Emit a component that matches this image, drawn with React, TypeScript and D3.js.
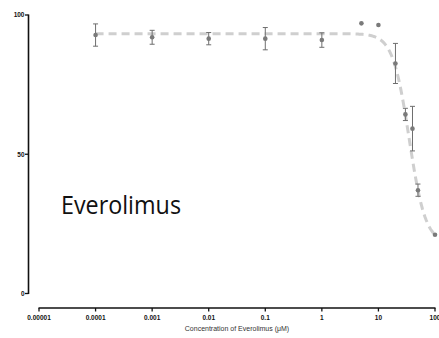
import React from "react";
import * as d3 from "d3";

const W = 439;
const H = 338;

// measured data (concentration µM, mean % , error)
const concentrations = [0.0001, 0.001, 0.01, 0.1, 1, 5, 10, 20, 30, 40, 50, 100];
const means = [92.8, 92.0, 91.5, 91.5, 91.0, 97.0, 96.4, 82.6, 64.3, 59.2, 37.1, 21.1];
const errors = [4.0, 2.5, 2.2, 4.0, 2.6, 0, 0, 7.2, 2.2, 8.0, 2.2, 0];

const xTicks = [0.00001, 0.0001, 0.001, 0.01, 0.1, 1, 10, 100];
const xTickLabels = ["0.00001", "0.0001", "0.001", "0.01", "0.1", "1", "10", "100"];
const yTicks = [0, 50, 100];

// fitted dose-response parameters (4PL)
const fitTop = 93.3;
const fitBottom = 18;
const fitIC50 = 34.9;
const fitHill = 3;
const fitRange = [0.0001, 100];

export default function App() {
  const x = d3.scaleLog().domain([0.00001, 100]).range([39, 435]);
  const y = d3.scaleLinear().domain([0, 100]).range([293.5, 15]);

  const curveX = d3.range(0, 301).map((i) => {
    const l0 = Math.log10(fitRange[0]);
    const l1 = Math.log10(fitRange[1]);
    return Math.pow(10, l0 + ((l1 - l0) * i) / 300);
  });
  const fitFn = (c: number) => fitBottom + (fitTop - fitBottom) / (1 + Math.pow(c / fitIC50, fitHill));
  const line = d3
    .line<number>()
    .x((c) => x(c))
    .y((c) => y(fitFn(c)))
    .curve(d3.curveLinear);

  const axisX = 28.5;
  const axisY = 308;

  return (
    <svg
      width={W}
      height={H}
      style={{ position: "absolute", left: 0, top: 0, background: "#fff" }}
      fontFamily="'Liberation Sans', Arial, sans-serif"
    >
      <rect width={W} height={H} fill="#fff" />
      {/* fit curve */}
      <path d={line(curveX) || ""} fill="none" stroke="#cfcfcf" strokeWidth={3} strokeDasharray="8,5" />

      {/* error bars */}
      {concentrations.map((c, i) =>
        errors[i] > 0 ? (
          <g key={"e" + i} stroke="#6e6e6e" strokeWidth={1}>
            <line x1={x(c)} x2={x(c)} y1={y(means[i] + errors[i])} y2={y(means[i] - errors[i])} />
            <line x1={x(c) - 2.5} x2={x(c) + 2.5} y1={y(means[i] + errors[i])} y2={y(means[i] + errors[i])} />
            <line x1={x(c) - 2.5} x2={x(c) + 2.5} y1={y(means[i] - errors[i])} y2={y(means[i] - errors[i])} />
          </g>
        ) : null
      )}
      {/* points */}
      {concentrations.map((c, i) => (
        <circle key={"p" + i} cx={x(c)} cy={y(means[i])} r={2.3} fill="#7a7a7a" />
      ))}

      {/* y axis */}
      <line x1={axisX} x2={axisX} y1={y(100) - 0.5} y2={y(0) + 0.5} stroke="#111" strokeWidth={1.6} />
      {yTicks.map((t) => (
        <g key={"yt" + t}>
          <line x1={axisX - 3.5} x2={axisX} y1={y(t)} y2={y(t)} stroke="#111" strokeWidth={1.3} />
          <text x={axisX - 4} y={y(t)} dy="0.35em" textAnchor="end" fontSize={6.5} fontWeight="bold" fill="#111">
            {t}
          </text>
        </g>
      ))}

      {/* x axis */}
      <line x1={x(0.00001) - 0.5} x2={x(100) + 0.5} y1={axisY} y2={axisY} stroke="#111" strokeWidth={1.6} />
      {xTicks.map((t, i) => (
        <g key={"xt" + i}>
          <line x1={x(t)} x2={x(t)} y1={axisY} y2={axisY + 3.5} stroke="#111" strokeWidth={1.3} />
          <text x={x(t)} y={axisY + 10} dy="0.35em" textAnchor="middle" fontSize={6.5} fontWeight="bold" fill="#111">
            {xTickLabels[i]}
          </text>
        </g>
      ))}
      <text x={237} y={329} dy="0.35em" textAnchor="middle" fontSize={7} fill="#333">
        Concentration of Everolimus (μM)
      </text>

      <text
        x={61}
        y={213.5}
        fontSize={25.5}
        fill="#111"
        textLength={120}
        lengthAdjust="spacingAndGlyphs"
        fontFamily="'Open Sans', 'Noto Sans', sans-serif"
      >
        Everolimus
      </text>
    </svg>
  );
}
